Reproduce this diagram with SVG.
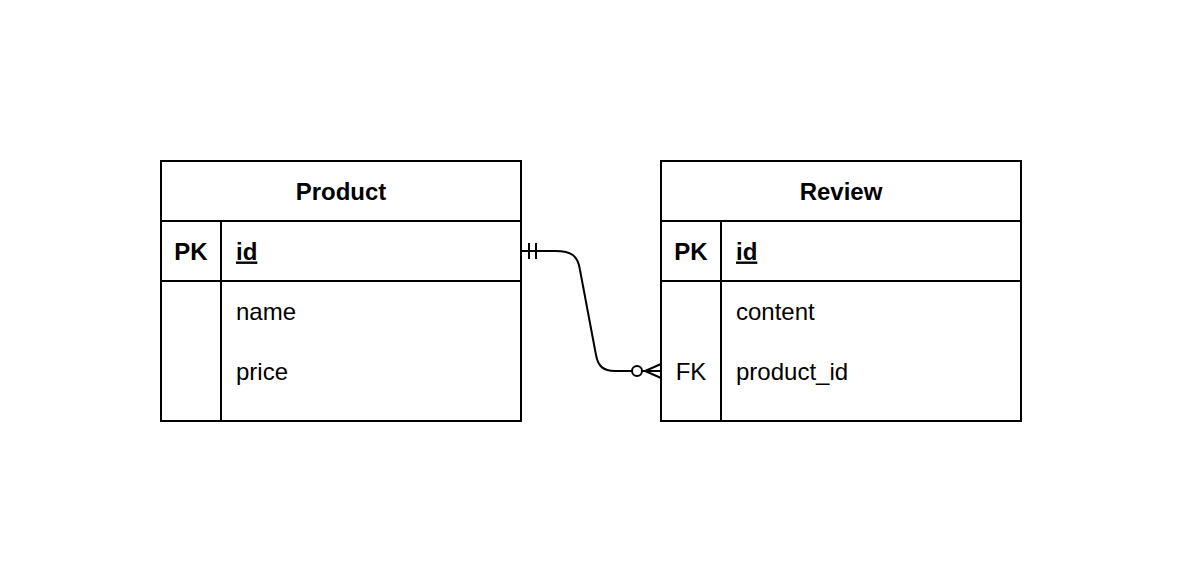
<svg xmlns="http://www.w3.org/2000/svg" width="1182" height="582" viewBox="0 0 1182 582">
<style>
.box{fill:#fff;stroke:#000;stroke-width:2}
.ln{stroke:#000;stroke-width:2;fill:none}
text{font-family:"Liberation Sans",Arial,sans-serif;font-size:24px;fill:#000}
.b{font-weight:bold}
.t{text-anchor:middle;font-weight:bold}
.k{text-anchor:middle}
</style>
<rect width="1182" height="582" fill="#fff"/>
<g id="product">
<rect class="box" x="161" y="161" width="360" height="260"/>
<line class="ln" x1="161" y1="221" x2="521" y2="221"/>
<line class="ln" x1="161" y1="281" x2="521" y2="281"/>
<line class="ln" x1="221" y1="221" x2="221" y2="421"/>
<text class="t" x="341" y="199.5">Product</text>
<text class="t" x="191" y="259.5">PK</text>
<text class="b" x="236" y="259.5" text-decoration="underline">id</text>
<text x="236" y="319.5">name</text>
<text x="236" y="379.5">price</text>
</g>
<g id="review">
<rect class="box" x="661" y="161" width="360" height="260"/>
<line class="ln" x1="661" y1="221" x2="1021" y2="221"/>
<line class="ln" x1="661" y1="281" x2="1021" y2="281"/>
<line class="ln" x1="721" y1="221" x2="721" y2="421"/>
<text class="t" x="841" y="199.5">Review</text>
<text class="t" x="691" y="259.5">PK</text>
<text class="b" x="736" y="259.5" text-decoration="underline">id</text>
<text x="736" y="319.5">content</text>
<text class="k" x="691" y="379.5">FK</text>
<text x="736" y="379.5">product_id</text>
</g>
<g id="connectors">
<path class="ln" d="M521,251 H555 C572,251 578,256 580,270 L596,355 C598,366 603,371 615,371 H632"/>
<line class="ln" x1="529" y1="243" x2="529" y2="259"/>
<line class="ln" x1="536" y1="243" x2="536" y2="259"/>
<circle class="ln" cx="637" cy="371" r="5" fill="#fff"/>
<path class="ln" d="M661,364 L645,371 L661,378 M642,371 H661"/>
</g>
</svg>
